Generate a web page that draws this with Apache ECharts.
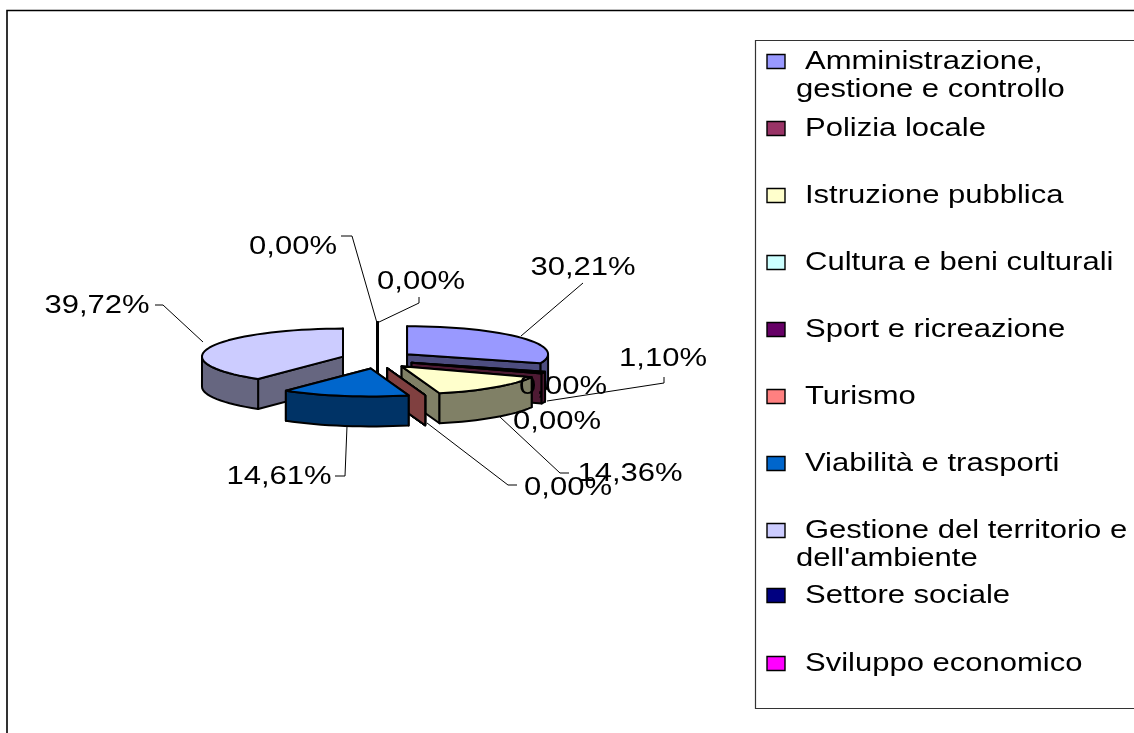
<!DOCTYPE html>
<html>
<head>
<meta charset="utf-8">
<title>Spese per funzione</title>
<style>
  html, body { margin: 0; padding: 0; background: #fff; }
  #chart { width: 1134px; height: 733px; }
</style>
<script src="https://cdn.jsdelivr.net/npm/echarts@6/dist/echarts.min.js"></script>
</head>
<body>
<div id="chart"></div>
<script>
const categories = [
  'Amministrazione,\ngestione e controllo',
  'Polizia locale',
  'Istruzione pubblica',
  'Cultura e beni culturali',
  'Sport e ricreazione',
  'Turismo',
  'Viabilità e trasporti',
  "Gestione del territorio e\ndell'ambiente",
  'Settore sociale',
  'Sviluppo economico',
];
const percentages = [30.21, 1.1, 14.36, 0, 0, 0, 14.61, 39.72, 0, 0];
const topColors = ['#9999ff', '#993366', '#ffffcc', '#ccffff', '#660066', '#ff8080', '#0066cc', '#ccccff', '#000080', '#ff00ff'];
const sideColors = ['#4d4d80', '#4d1a33', '#808066', '#668080', '#330033', '#804040', '#003366', '#666680', '#000040', '#800080'];

// pie geometry, the reference is an old office 3D pie seen from above
const PIE_X = 377.5;
const PIE_Y = 359.5;
const RADIUS_X = 141;
const RADIUS_Y = 28;
const DEPTH = 30;
const EXPLODE_X = 36.4;
const EXPLODE_Y = 9.1;
const TEXT_FONT = '25px "Liberation Sans", Arial, sans-serif';
const TEXT_STRETCH = 1.24; // the source text is wider than it is tall
const TEXT_NUDGE = 1.5;
const LINE = '#000';

// label centre and leader line of each slice, same order as categories
const labelLayout = [
  { at: [583, 267], leader: [[583, 283], [521, 336]] },
  { at: [663, 358], leader: [[664, 377], [664, 383], [547, 401]] },
  { at: [630, 473], leader: [[569, 473], [560, 473], [500, 417]] },
  { at: [563, 386], leader: null },
  { at: [557, 421], leader: null },
  { at: [568, 487], leader: [[517, 485], [508, 485], [427, 423]] },
  { at: [279, 476], leader: [[335, 476], [345, 476], [347, 426]] },
  { at: [97, 305], leader: [[155, 305], [163, 305], [203, 342]] },
  { at: [293, 246], leader: [[341, 236], [352, 236], [377, 323]] },
  { at: [421, 281], leader: [[419, 297], [419, 303], [377, 323]] },
];

const legendRows = [61.5, 128.5, 195.5, 262.5, 329.5, 396.5, 463.5, 530.5, 595.5, 663.5];

const formatPercent = (value) => value.toFixed(2).replace('.', ',') + '%';

const total = percentages.reduce((sum, value) => sum + value, 0);

// start and end angle of each slice, clockwise from twelve o'clock
const slices = percentages.map((value, index) => {
  const before = percentages.slice(0, index).reduce((sum, item) => sum + item, 0);
  const start = (before / total) * Math.PI * 2;
  const end = ((before + value) / total) * Math.PI * 2;
  const mid = (start + end) / 2;
  return {
    start,
    end,
    centerX: PIE_X + Math.sin(mid) * EXPLODE_X,
    centerY: PIE_Y - Math.cos(mid) * EXPLODE_Y,
  };
});

const rimPoint = (slice, angle) => [
  slice.centerX + Math.sin(angle) * RADIUS_X,
  slice.centerY - Math.cos(angle) * RADIUS_Y,
];

const arcPoints = (slice, from, to) => {
  const steps = Math.max(1, Math.ceil((to - from) / 0.06));
  const points = [];
  for (let i = 0; i <= steps; i += 1) {
    points.push(rimPoint(slice, from + ((to - from) * i) / steps));
  }
  return points;
};

const lowered = (points) => points.map((point) => [point[0], point[1] + DEPTH]).reverse();

const face = (points, fill, z2, lineWidth) => ({
  type: 'polygon',
  z2,
  shape: { points },
  style: { fill, stroke: LINE, lineWidth, lineJoin: 'round' },
});

const renderSlice = (params, api) => {
  const index = api.value(0);
  const slice = slices[index];
  const center = [slice.centerX, slice.centerY];
  const side = sideColors[index];
  const isEmpty = slice.end - slice.start < 1e-6;
  const lineWidth = isEmpty && Math.abs(Math.sin(slice.start)) < 1e-6 ? 3 : 2;
  // slices further back are painted first
  const base = Math.round(slice.centerY * 10) * 10 + index;
  const children = [];

  [slice.start, slice.end].forEach((angle) => {
    const wall = [center, rimPoint(slice, angle)];
    children.push(face(wall.concat(lowered(wall)), side, base, lineWidth));
  });

  // only the part of the rim that faces the viewer
  const from = Math.max(slice.start, Math.PI / 2);
  const to = Math.min(slice.end, Math.PI * 1.5);
  if (to > from) {
    const rim = arcPoints(slice, from, to);
    children.push(face(rim.concat(lowered(rim)), side, base + 1, 2));
  }
  if (!isEmpty) {
    const top = [center].concat(arcPoints(slice, slice.start, slice.end));
    children.push(face(top, topColors[index], base + 2, 2));
  }

  const layout = labelLayout[index];
  if (layout.leader) {
    children.push({
      type: 'polyline',
      z2: 60000,
      shape: { points: layout.leader },
      style: { fill: 'none', stroke: LINE, lineWidth: 1 },
    });
  }
  children.push({
    type: 'text',
    z2: 60001,
    x: layout.at[0],
    y: layout.at[1] + TEXT_NUDGE,
    scaleX: TEXT_STRETCH,
    style: {
      text: formatPercent(percentages[index]),
      font: TEXT_FONT,
      fill: '#000',
      align: 'center',
      verticalAlign: 'middle',
    },
  });

  return { type: 'group', children };
};

// legend is laid out by hand, rows are not evenly spaced and long names hang to the left
const legendGraphics = () => {
  const items = [
    {
      type: 'rect',
      shape: { x: 7, y: 10.5, width: 1200, height: 800 },
      style: { fill: '#fff', stroke: '#000', lineWidth: 1.6 },
      z: -1,
    },
    {
      type: 'rect',
      shape: { x: 755.5, y: 40.5, width: 500, height: 668 },
      style: { fill: '#fff', stroke: '#333', lineWidth: 1.2 },
      z: -1,
    },
  ];
  categories.forEach((name, index) => {
    const rowY = legendRows[index];
    items.push({
      type: 'rect',
      shape: { x: 767, y: rowY - 7, width: 18, height: 14 },
      style: { fill: topColors[index], stroke: '#000', lineWidth: 1.4 },
    });
    name.split('\n').forEach((line, lineIndex) => {
      items.push({
        type: 'text',
        x: lineIndex === 0 ? 805 : 796,
        y: rowY + TEXT_NUDGE - 0.5 + lineIndex * 28,
        scaleX: TEXT_STRETCH,
        style: { text: line, font: TEXT_FONT, fill: '#000', align: 'left', verticalAlign: 'middle' },
      });
    });
  });
  return items;
};

const chart = echarts.init(document.getElementById('chart'));
chart.setOption({
  animation: false,
  backgroundColor: '#fff',
  graphic: legendGraphics(),
  series: [
    {
      type: 'custom',
      coordinateSystem: 'none',
      clip: false,
      silent: true,
      encode: { value: 1 },
      data: percentages.map((value, index) => [index, value]),
      renderItem: renderSlice,
    },
  ],
});
</script>
</body>
</html>
